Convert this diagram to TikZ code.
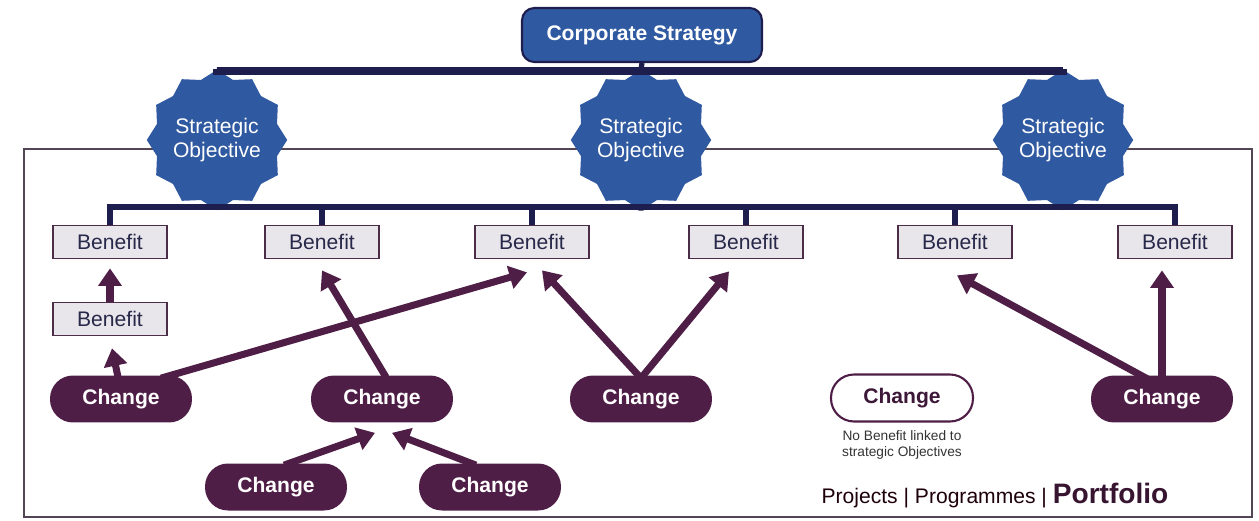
\documentclass[tikz,border=0pt]{standalone}
\usepackage{fontspec}
\setmainfont{Liberation Sans}
\usetikzlibrary{arrows.meta, shapes.geometric, calc, backgrounds}

\definecolor{stratblue}{RGB}{47,89,160}
\definecolor{busnavy}{RGB}{30,30,78}
\definecolor{chgpurple}{RGB}{78,30,70}
\definecolor{benfill}{RGB}{232,230,234}
\definecolor{benline}{RGB}{75,45,72}
\definecolor{framegray}{RGB}{82,70,84}
\definecolor{bentext}{RGB}{40,40,75}

\begin{document}
\begin{tikzpicture}[x=0.02cm, y=-0.02cm,
    corpbox/.style={rectangle, rounded corners=7pt, draw=busnavy, line width=1.2pt, fill=stratblue, text=white, font=\fontsize{12}{14}\selectfont\bfseries, minimum width=4.8cm, minimum height=1.08cm},
    objstar/.style={star, star points=12, star point ratio=1.13, fill=stratblue, text=white, minimum size=2.36cm, inner sep=0pt, align=center, font=\fontsize{12}{13.6}\selectfont},
    benbox/.style={rectangle, draw=benline, line width=1pt, fill=benfill, text=bentext, font=\fontsize{12}{14}\selectfont, minimum width=2.28cm, minimum height=0.66cm},
    chg/.style={rectangle, rounded corners=0.46cm, fill=chgpurple, text=white, font=\fontsize{12}{14}\selectfont\bfseries, minimum width=2.84cm, minimum height=0.94cm},
    chgfree/.style={chg, fill=white, draw=chgpurple, line width=1.2pt, text=chgpurple!80!black},
    bus/.style={draw=busnavy, line width=3pt},
    arr/.style={draw=chgpurple, line width=4pt, -{Triangle[width=13pt,length=10pt]}}]

    \useasboundingbox (0,0) rectangle (1259,521);
    \draw[framegray, line width=1.3pt] (24,149) rectangle (1252,517);

    \node at (642,35) [corpbox] (corp) {Corporate Strategy};

    \node at (217,140) [objstar] (obj1) {Strategic\\Objective};
    \node at (641,140) [objstar] (obj2) {Strategic\\Objective};
    \node at (1063,140) [objstar] (obj3) {Strategic\\Objective};

    \node at (110,242) [benbox] (ben1) {Benefit};
    \node at (322,242) [benbox] (ben2) {Benefit};
    \node at (532,242) [benbox] (ben3) {Benefit};
    \node at (746,242) [benbox] (ben4) {Benefit};
    \node at (955,242) [benbox] (ben5) {Benefit};
    \node at (1175,242) [benbox] (ben6) {Benefit};
    \node at (110,319) [benbox] (ben7) {Benefit};

    \node at (121,399) [chg] (chg1) {Change};
    \node at (382,399) [chg] (chg2) {Change};
    \node at (641,399) [chg] (chg3) {Change};
    \node at (902,398) [chgfree] (chg4) {Change};
    \node at (1162,399) [chg] (chg5) {Change};
    \node at (276,487) [chg] (chg6) {Change};
    \node at (490,487) [chg] (chg7) {Change};

    \node at (902,445) [align=center, text=black!80, font=\fontsize{7.8}{9}\selectfont] (note) {No Benefit linked to\\strategic Objectives};
    \node at (995,496) [text=black!85!purple, font=\fontsize{12}{14}\selectfont] (levels) {Projects | Programmes | {\fontsize{16}{18}\selectfont\bfseries\color{chgpurple!70!black}Portfolio}};

    % strategy tree
    \coordinate (topbus) at (641,71);
    \coordinate (lowbus) at (641,207);
    \draw[bus, line width=4pt] (obj1.north) |- (topbus) -| (obj3.north);
    \draw[bus] (corp.south) -- (obj2.north);
    \draw[bus] (ben1.north) |- (lowbus) -| (ben6.north);
    \draw[bus] (obj2.south) -- (lowbus);
    \foreach \b in {ben2,ben3,ben4,ben5}
        \draw[bus] (\b.north) -- (\b.north |- lowbus);

    % changes -> benefits
    \begin{scope}[on background layer]
        \draw[arr] (ben7.north) -- ($(ben1.south)+(0,9)$);
        \draw[arr] ($(chg1.north)+(-3,2)$) -- ($(ben7.south)+(2,12)$);
        \draw[arr] ($(chg1.north)+(40,3)$) -- ($(ben3.south)+(-5,13)$);
        \draw[arr] ($(chg2.north)+(4,2)$) -- ($(ben2.south)+(0,11)$);
        \draw[arr] ($(chg3.north)+(0,3)$) -- ($(ben3.south)+(10,11)$);
        \draw[arr] ($(chg3.north)+(0,3)$) -- ($(ben4.south)+(-17,12)$);
        \draw[arr] ($(chg5.north)+(-14,4)$) -- ($(ben5.south)+(2,16)$);
        \draw[arr] ($(chg5.north)+(0,2)$) -- ($(ben6.south)+(-13,11)$);
        \draw[arr] ($(chg6.north)+(8,2)$) -- ($(chg2.south)+(-7,10)$);
        \draw[arr] ($(chg7.north)+(-14,2)$) -- ($(chg2.south)+(10,10)$);
    \end{scope}
\end{tikzpicture}
\end{document}
